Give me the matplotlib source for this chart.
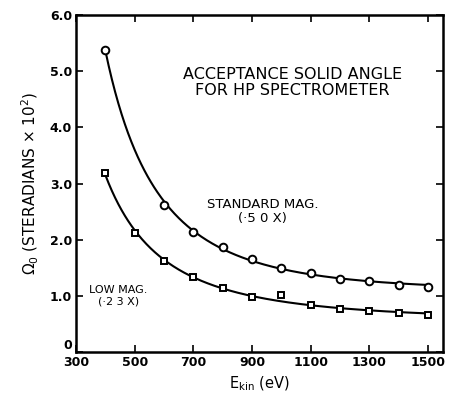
import numpy as np
import matplotlib.pyplot as plt

# Data
std_energy = np.array([400, 600, 700, 800, 900, 1000, 1100, 1200, 1300, 1400, 1500])
std_omega = np.array([5.38, 2.62, 2.14, 1.87, 1.66, 1.50, 1.41, 1.31, 1.27, 1.20, 1.16])
low_energy = np.array([400, 500, 600, 700, 800, 900, 1000, 1100, 1200, 1300, 1400, 1500])
low_omega = np.array([3.18, 2.12, 1.62, 1.34, 1.14, 0.98, 1.02, 0.84, 0.76, 0.73, 0.70, 0.66])

xticks = [300, 500, 700, 900, 1100, 1300, 1500]
yticks = [0, 1, 2, 3, 4, 5, 6]
ytick_labels = ['0', '1.0', '2.0', '3.0', '4.0', '5.0', '6.0']


def smooth_fit(x, y):
    # fit y = a + b/E + c/E^2 to the points (same as a hand-drawn guide curve)
    c = np.polyfit(1.0 / x, y, 2)
    xs = np.linspace(x.min(), x.max(), 300)
    return xs, np.polyval(c, 1.0 / xs)


fig = plt.figure(figsize=(4.5, 4.08), dpi=100)
ax = fig.add_axes([0.169, 0.137, 0.815, 0.826])

xs, ys = smooth_fit(std_energy, std_omega)
ax.plot(xs, ys, color='black', lw=1.5)
ax.plot(std_energy, std_omega, 'o', ms=5.5, mfc='white', mec='black', mew=1.4)

xs, ys = smooth_fit(low_energy, low_omega)
ax.plot(xs, ys, color='black', lw=1.5)
ax.plot(low_energy, low_omega, 's', ms=5, mfc='white', mec='black', mew=1.4)

ax.set_xlim(300, 1550)
ax.set_ylim(0, 6)
ax.set_xticks(xticks)
ax.set_xticklabels([str(t) for t in xticks], fontsize=9, fontweight='bold')
ax.set_yticks(yticks)
ax.set_yticklabels(ytick_labels, fontsize=9, fontweight='bold')
ax.tick_params(direction='in', length=5, width=1.2, top=True, right=True, pad=3)
# lift the "0" so it sits above the 300 label, as in the original
ax.get_yticklabels()[0].set_va('bottom')
for s in ax.spines.values():
    s.set_linewidth(1.8)

ax.text(0.59, 0.80, 'ACCEPTANCE SOLID ANGLE\nFOR HP SPECTROMETER', transform=ax.transAxes,
        ha='center', va='center', fontsize=11.5, linespacing=1.05)
ax.text(935, 2.5, 'STANDARD MAG.\n(\u00b75 0 X)', ha='center', va='center', fontsize=9.5, linespacing=1.15)
ax.text(445, 1.0, 'LOW MAG.\n(\u00b72 3 X)', ha='center', va='center', fontsize=8, linespacing=1.15)

ax.set_xlabel(r'E$_{\rm kin}$ (eV)', fontsize=10.5, labelpad=4)
ax.set_ylabel(r'$\Omega_0$ (STERADIANS $\times$ 10$^2$)', fontsize=11, labelpad=6)

fig.savefig('out.png', dpi=100)
